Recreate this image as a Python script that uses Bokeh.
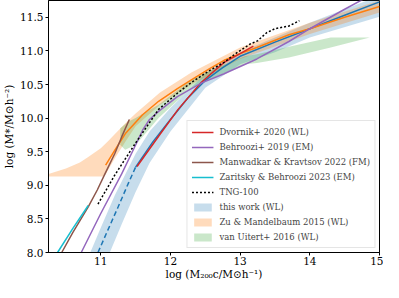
from bokeh.plotting import figure
from bokeh.models import FixedTicker, Range1d, Legend, LegendItem
from bokeh.embed import file_html
from bokeh.resources import INLINE

# ---------------- data ----------------
x_ticks = [11, 12, 13, 14, 15]
x_tick_labels = ["11", "12", "13", "14", "15"]
y_ticks = [8.0, 8.5, 9.0, 9.5, 10.0, 10.5, 11.0, 11.5]
y_tick_labels = ["8.0", "8.5", "9.0", "9.5", "10.0", "10.5", "11.0", "11.5"]

# this work (WL): dashed extrapolation + solid line, band edges
tw_dash_x = [10.96, 11.1, 11.25, 11.4, 11.5]
tw_dash_y = [8.0, 8.33, 8.68, 9.04, 9.27]
tw_x = [11.5, 11.75, 12.0, 12.25, 12.5, 12.75, 13.0, 13.5, 14.0, 14.5, 15.0]
tw_y = [9.27, 9.65, 9.98, 10.3, 10.56, 10.75, 10.92, 11.13, 11.33, 11.53, 11.73]
tw_up_x = [10.85, 11.0, 11.2, 11.5, 11.7, 12.0, 12.5, 13.0, 13.5, 14.0, 15.0]
tw_up_y = [8.0, 8.37, 8.85, 9.47, 9.8, 10.15, 10.66, 10.98, 11.2, 11.42, 11.82]
tw_lo_x = [11.13, 11.3, 11.5, 11.7, 12.0, 12.5, 13.0, 13.5, 14.0, 15.0]
tw_lo_y = [8.0, 8.42, 8.9, 9.33, 9.8, 10.45, 10.8, 10.98, 11.2, 11.51]

# Dvornik+ 2020 (WL)
dv_x = [11.52, 11.83, 12.11, 12.44, 12.77, 13.0, 13.19]
dv_y = [9.28, 9.73, 10.13, 10.53, 10.83, 10.96, 11.07]

# Behroozi+ 2019 (EM)
be_x = [10.72, 11.0, 11.3, 11.5, 11.6, 11.7, 11.83, 12.1, 12.44, 12.77, 13.24, 13.7, 14.0, 14.5, 15.0]
be_y = [8.0, 8.58, 9.17, 9.6, 9.82, 9.98, 10.1, 10.32, 10.52, 10.66, 10.88, 11.14, 11.33, 11.62, 11.9]

# Manwadkar & Kravtsov 2022 (FM)
mk_x = [10.44, 10.6, 10.82, 10.95, 11.06, 11.2, 11.3, 11.41]
mk_y = [8.0, 8.3, 8.68, 8.93, 9.17, 9.47, 9.72, 9.98]

# Zaritsky & Behroozi 2023 (EM)
zb_x = [10.38, 10.6, 10.82]
zb_y = [8.0, 8.36, 8.7]

# TNG-100
tng_x = [10.96, 11.2, 11.5, 11.83, 12.1, 12.3, 12.55, 12.77, 12.95, 13.14, 13.25, 13.38, 13.5, 13.7, 13.85]
tng_y = [8.72, 9.15, 9.63, 10.13, 10.37, 10.53, 10.7, 10.83, 10.97, 11.1, 11.15, 11.27, 11.33, 11.37, 11.45]

# Zu & Mandelbaum 2015 (WL)
zm_x = [11.07, 11.2, 11.36, 11.6, 11.83, 12.1, 12.3, 12.55, 12.77, 13.0, 13.24, 13.7, 14.0, 14.5, 15.0]
zm_y = [9.3, 9.52, 9.78, 10.05, 10.25, 10.44, 10.57, 10.73, 10.86, 10.96, 11.05, 11.24, 11.33, 11.5, 11.66]
zm_up_x = [10.25, 10.5, 10.7, 10.82, 11.0, 11.1, 11.2, 11.36, 11.5, 11.85, 12.3, 13.0, 14.0, 15.0]
zm_up_y = [9.17, 9.25, 9.34, 9.42, 9.55, 9.65, 9.76, 9.93, 10.07, 10.38, 10.68, 11.05, 11.42, 11.75]
zm_lo_x = [10.25, 11.03, 11.07, 11.2, 11.36, 11.5, 11.85, 12.3, 13.0, 14.0, 15.0]
zm_lo_y = [9.13, 9.13, 9.16, 9.4, 9.66, 9.88, 10.2, 10.5, 10.88, 11.25, 11.57]

# van Uitert+ 2016 (WL)
vu_up_x = [11.28, 11.4, 11.5, 11.83, 12.3, 12.55, 13.07, 13.24, 13.7, 14.3, 14.86]
vu_up_y = [9.85, 9.95, 10.0, 10.2, 10.57, 10.7, 10.92, 10.95, 11.06, 11.2, 11.2]
vu_lo_x = [11.28, 11.35, 11.5, 11.83, 12.3, 12.55, 13.07, 13.24, 13.7, 14.3, 14.86]
vu_lo_y = [9.6, 9.53, 9.6, 10.0, 10.45, 10.57, 10.8, 10.82, 10.9, 11.05, 11.2]

# ---------------- figure ----------------
FONT = "DejaVu Serif"
p = figure(width=383, height=282, output_backend="svg", toolbar_location=None,
           x_range=Range1d(10.25, 15.0), y_range=Range1d(8.0, 11.75),
           min_border_left=30, min_border_right=4, min_border_top=0, min_border_bottom=20)
p.grid.visible = False
p.outline_line_color = "black"
p.outline_line_width = 1
p.background_fill_color = "white"

def band(ux, uy, lx, ly):
    return list(ux) + list(lx)[::-1], list(uy) + list(ly)[::-1]

bx, by = band(tw_up_x, tw_up_y, tw_lo_x, tw_lo_y)
r_tw_band = p.patch(bx, by, fill_color="#1f77b4", fill_alpha=0.25, line_color=None)
ox, oy = band(zm_up_x, zm_up_y, zm_lo_x, zm_lo_y)
r_zm_band = p.patch(ox, oy, fill_color="#ff7f0e", fill_alpha=0.28, line_color=None)
gx, gy = band(vu_up_x, vu_up_y, vu_lo_x, vu_lo_y)
r_vu_band = p.patch(gx, gy, fill_color="#2ca02c", fill_alpha=0.25, line_color=None)

lw = 1.5
p.line(tw_dash_x, tw_dash_y, line_color="#1f77b4", line_width=lw, line_dash="5 3")
p.line(tw_x, tw_y, line_color="#1f77b4", line_width=lw)
p.line(zm_x, zm_y, line_color="#ff7f0e", line_width=lw)
r_dv = p.line(dv_x, dv_y, line_color="#d62728", line_width=lw)
r_be = p.line(be_x, be_y, line_color="#9467bd", line_width=lw)
r_mk = p.line(mk_x, mk_y, line_color="#8c564b", line_width=lw)
r_zb = p.line(zb_x, zb_y, line_color="#17becf", line_width=lw)
r_tng = p.line(tng_x, tng_y, line_color="black", line_width=lw, line_dash="2 2")

# axes
for ax in (p.xaxis[0], p.yaxis[0]):
    ax.major_label_text_font = FONT
    ax.major_label_text_font_size = "10.5px"
    ax.major_label_text_color = "black"
    ax.axis_label_text_font = FONT
    ax.axis_label_text_font_size = "10.5px"
    ax.axis_label_text_font_style = "normal"
    ax.axis_label_text_color = "black"
    ax.major_tick_out = 3
    ax.major_tick_in = 0
    ax.minor_tick_out = 0
    ax.minor_tick_in = 0
    ax.axis_line_color = "black"
    ax.major_tick_line_color = "black"

p.xaxis.ticker = FixedTicker(ticks=x_ticks)
p.xaxis.major_label_overrides = dict(zip(x_ticks, x_tick_labels))
p.yaxis.ticker = FixedTicker(ticks=y_ticks)
p.yaxis.major_label_overrides = dict(zip(y_ticks, y_tick_labels))
p.xaxis.axis_label = "log (M\u2082\u2080\u2080c/M\u2299h\u207b\u00b9)"
p.yaxis.axis_label = "log (M*/M\u2299h\u207b\u00b2)"
p.xaxis.axis_label_standoff = 0
p.yaxis.axis_label_standoff = 2
p.xaxis.major_label_standoff = 1
p.yaxis.major_label_standoff = 2

legend = Legend(items=[
    LegendItem(label="Dvornik+ 2020 (WL)", renderers=[r_dv]),
    LegendItem(label="Behroozi+ 2019 (EM)", renderers=[r_be]),
    LegendItem(label="Manwadkar & Kravtsov 2022 (FM)", renderers=[r_mk]),
    LegendItem(label="Zaritsky & Behroozi 2023 (EM)", renderers=[r_zb]),
    LegendItem(label="TNG-100", renderers=[r_tng]),
    LegendItem(label="this work (WL)", renderers=[r_tw_band]),
    LegendItem(label="Zu & Mandelbaum 2015 (WL)", renderers=[r_zm_band]),
    LegendItem(label="van Uitert+ 2016 (WL)", renderers=[r_vu_band]),
], location="bottom_right")
legend.label_text_font = FONT
legend.label_text_font_size = "8.5px"
legend.label_height = 13
legend.glyph_height = 10
legend.glyph_width = 22
legend.spacing = 2
legend.padding = 4
legend.margin = 4
legend.label_standoff = 6
legend.border_line_color = "#cccccc"
legend.border_line_width = 1
legend.background_fill_alpha = 0.85
p.add_layout(legend, "center")

open("out.html", "w").write(file_html(p, INLINE))
